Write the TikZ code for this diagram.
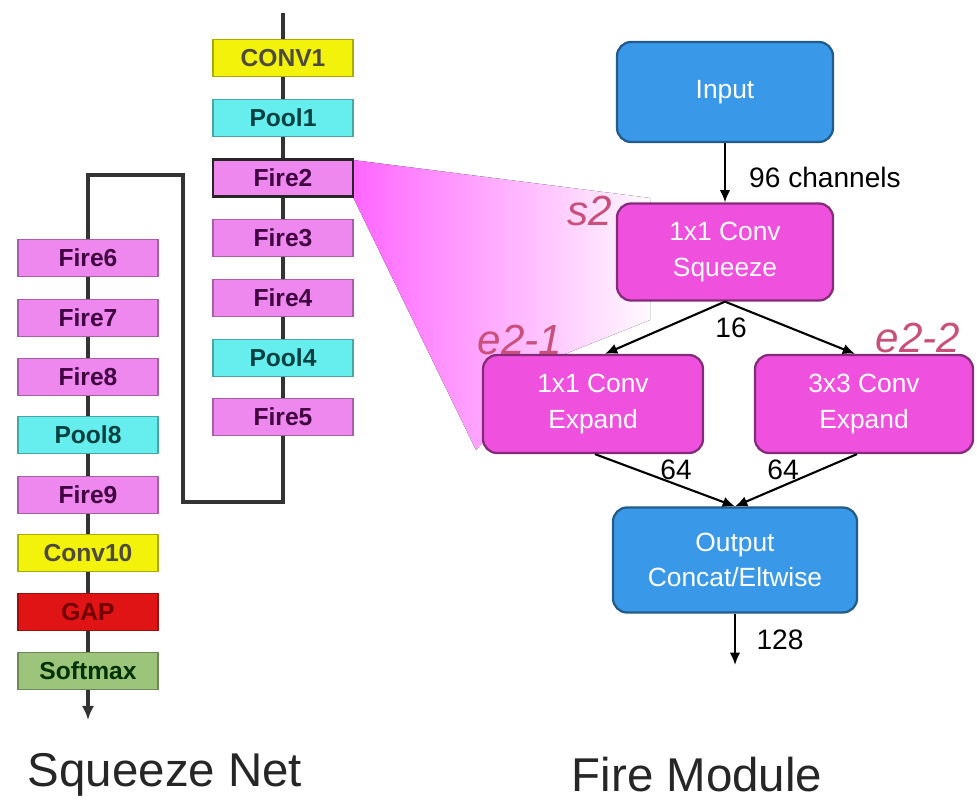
\documentclass[tikz,border=0pt]{standalone}
\usepackage{fontspec}
\setmainfont{Liberation Sans}
\usetikzlibrary{arrows.meta}

\definecolor{convyellow}{HTML}{F2F20A}
\definecolor{poolcyan}{HTML}{66EEEE}
\definecolor{firepink}{HTML}{EE88EE}
\definecolor{gapred}{HTML}{E01414}
\definecolor{softgreen}{HTML}{9CC47A}
\definecolor{modblue}{HTML}{3A98E8}
\definecolor{modmagenta}{HTML}{F050DE}
\definecolor{tagred}{HTML}{C8507A}
\definecolor{linkgray}{HTML}{333333}

\tikzset{
  layer/.style={minimum width=2.8cm, minimum height=0.74cm, inner sep=0pt,
    font=\bfseries\fontsize{14}{16}\selectfont, line width=0.6pt},
  convbox/.style={layer, fill=convyellow, draw=convyellow!70!black, text=black!80!yellow},
  poolbox/.style={layer, fill=poolcyan, draw=poolcyan!70!black, text=teal!50!black},
  firebox/.style={layer, fill=firepink, draw=firepink!70!black, text=violet!50!black},
  gapbox/.style={layer, fill=gapred, draw=gapred!70!black, text=red!45!black},
  softbox/.style={layer, fill=softgreen, draw=softgreen!70!black, text=green!20!black},
  module/.style={rounded corners=8pt, line width=1.3pt, align=center, text=white,
    font=\fontsize{15}{20}\selectfont, inner sep=0pt},
  bluebox/.style={module, fill=modblue, draw=modblue!60!black},
  pinkbox/.style={module, fill=modmagenta, draw=modmagenta!55!black},
  link/.style={draw=linkgray, line width=2.2pt},
  flow/.style={draw=black, line width=1.2pt, -{Latex[length=7pt,width=6pt]}},
  count/.style={font=\fontsize{16}{18}\selectfont},
  tag/.style={text=tagred, font=\itshape\fontsize{24}{26}\selectfont}
}

\begin{document}
\begin{tikzpicture}[x=0.02cm, y=-0.02cm]
        \useasboundingbox (0,0) rectangle (977,807);

        % Zoom wedge
        \fill[left color=magenta!60!white, right color=magenta!2!white]
          (353,160) -- (650,198) -- (650,320) -- (560,356) -- (476,450) -- (353,197) -- cycle;

        % Squeeze Net layers
        \coordinate (top) at (283,13);
        \node[convbox] (conv1) at (283,58) {CONV1};
        \node[poolbox] (pool1) at (283,118) {Pool1};
        \node[firebox, draw=black!85, line width=1.5pt] (fire2) at (283,178) {Fire2};
        \node[firebox] (fire3) at (283,238) {Fire3};
        \node[firebox] (fire4) at (283,298) {Fire4};
        \node[poolbox] (pool4) at (283,358) {Pool4};
        \node[firebox] (fire5) at (283,417) {Fire5};

        \node[firebox] (fire6) at (88,258) {Fire6};
        \node[firebox] (fire7) at (88,318) {Fire7};
        \node[firebox] (fire8) at (88,377) {Fire8};
        \node[poolbox] (pool8) at (88,435) {Pool8};
        \node[firebox] (fire9) at (88,495) {Fire9};
        \node[convbox] (conv10) at (88,553) {Conv10};
        \node[gapbox] (gap) at (88,612) {GAP};
        \node[softbox] (softmax) at (88,671) {Softmax};
        \coordinate (bottom) at (88,720);

        \draw[link] (top) -- (conv1);
        \foreach \a/\b in {conv1/pool1, pool1/fire2, fire2/fire3, fire3/fire4, fire4/pool4, pool4/fire5,
                           fire6/fire7, fire7/fire8, fire8/pool8, pool8/fire9, fire9/conv10, conv10/gap, gap/softmax}
          \draw[link] (\a) -- (\b);
        \draw[link, line join=miter] (fire5) |- (183,502) |- (fire6.north |- 0,175) -- (fire6);
        \draw[link, -{Latex[length=8pt,width=7pt]}] (softmax) -- (bottom);

        % Fire Module
        \node[bluebox, minimum width=4.32cm, minimum height=2cm] (input) at (725,92) {Input};
        \node[pinkbox, minimum width=4.32cm, minimum height=1.94cm] (squeeze) at (725,252) {1x1 Conv\\Squeeze};
        \node[pinkbox, minimum width=4.4cm, minimum height=1.96cm] (expand1) at (593,404) {1x1 Conv\\Expand};
        \node[pinkbox, minimum width=4.36cm, minimum height=1.96cm] (expand2) at (864,404) {3x3 Conv\\Expand};
        \node[bluebox, minimum width=4.88cm, minimum height=2.1cm] (output) at (735,560) {Output\\Concat/Eltwise};
        \coordinate (out) at (735,665);

        \draw[flow] (input) -- (squeeze);
        \draw[flow] (squeeze.south) -- ([xshift=0.24cm]expand1.north);
        \draw[flow] (squeeze.south) -- ([xshift=-0.18cm]expand2.north);
        \draw[flow] ([xshift=0.04cm]expand1.south) -- (output.north);
        \draw[flow] ([xshift=-0.14cm]expand2.south) -- (output.north);
        \draw[flow] (output) -- (out);

        % Channel counts
        \node[count] (c96) at (825,177) {96 channels};
        \node[count] (c16) at (731,328) {16};
        \node[count] (c64a) at (676,470) {64};
        \node[count] (c64b) at (783,470) {64};
        \node[count] (c128) at (780,640) {128};

        % Layer tags
        \node[tag] (s2) at (590,211) {s2};
        \node[tag] (e21) at (520,340) {e2-1};
        \node[tag] (e22) at (918,338) {e2-2};

        % Titles
        \node[font=\fontsize{27}{30}\selectfont, text=black!85] (title1) at (165,775) {Squeeze Net};
        \node[font=\fontsize{27}{30}\selectfont, text=black!85] (title2) at (697,775) {Fire Module};
    \end{tikzpicture}
\end{document}
